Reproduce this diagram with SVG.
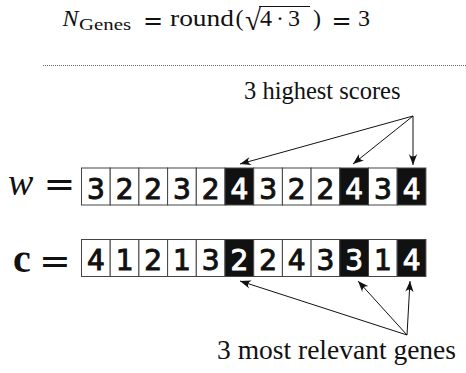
<svg xmlns="http://www.w3.org/2000/svg" width="466" height="373" viewBox="0 0 466 373">
<style>
.serif{font-family:'Liberation Serif','Times New Roman',Times,serif;fill:#111}
.eq{font-family:'DejaVu Serif',serif;fill:#111}
.cell rect{fill:#fff;stroke:#444;stroke-width:1}
.cell text{font-family:'DejaVu Sans',sans-serif;font-size:28px;text-anchor:middle;fill:#111;stroke:#111;stroke-width:1}
.cell.hi rect{fill:#111}
.cell.hi text{fill:#fff;stroke:#fff}
.conn line{stroke:#111;stroke-width:1;fill:none}
</style>
<defs>
<marker id="ah" viewBox="-11 -5 12 10" refX="0" refY="0" markerWidth="12" markerHeight="10" markerUnits="userSpaceOnUse" orient="auto">
<path d="M0,0 L-11,-4.2 Q-6,0 -11,4.2 Z" fill="#111"/>
</marker>
</defs>
<rect width="466" height="373" fill="#fff"/>
<g id="formula">
<text class="serif" x="62.5" y="26" font-size="24" font-style="italic">N</text>
<text class="serif" x="79" y="29.5" font-size="17" textLength="52" lengthAdjust="spacingAndGlyphs">Genes</text>
<text class="eq" x="153" y="29" font-size="24" text-anchor="middle">=</text>
<text class="serif" x="170" y="26" font-size="24" textLength="64" lengthAdjust="spacingAndGlyphs">round</text>
<text class="serif" x="239.5" y="26" font-size="24" text-anchor="middle">(</text>
<text class="serif" x="253" y="29.5" font-size="29" text-anchor="middle">√</text>
<line x1="259" y1="6.5" x2="310" y2="6.5" stroke="#111" stroke-width="1"/>
<text class="serif" x="266" y="26" font-size="24" text-anchor="middle">4</text>
<text class="serif" x="280" y="26" font-size="24" text-anchor="middle">·</text>
<text class="serif" x="294" y="26" font-size="24" text-anchor="middle">3</text>
<text class="serif" x="317" y="26" font-size="24" text-anchor="middle">)</text>
<text class="eq" x="341.5" y="29" font-size="24" text-anchor="middle">=</text>
<text class="serif" x="364" y="26" font-size="24" text-anchor="middle">3</text>
</g>
<line id="separator" x1="43" y1="65.5" x2="466" y2="65.5" stroke="#666" stroke-width="1" stroke-dasharray="1,1"/>
<g id="label-top"><text class="serif" x="244" y="99" font-size="24.5">3 highest scores</text></g>
<g id="label-w"><text class="serif" x="8" y="195" font-size="38" font-style="italic">w</text><text class="eq" x="59.5" y="197" font-size="38" text-anchor="middle">=</text></g>
<g id="label-c"><text class="serif" x="13" y="271.5" font-size="40" font-weight="bold">c</text><text class="eq" x="55" y="274" font-size="38" text-anchor="middle">=</text></g>
<g id="row-w">
<g id="w0" class="cell"><rect x="81.5" y="168" width="28.7" height="37"/><text x="95.85" y="198.5">3</text></g>
<g id="w1" class="cell"><rect x="110.2" y="168" width="28.7" height="37"/><text x="124.55" y="198.5">2</text></g>
<g id="w2" class="cell"><rect x="138.9" y="168" width="28.7" height="37"/><text x="153.25" y="198.5">2</text></g>
<g id="w3" class="cell"><rect x="167.6" y="168" width="28.7" height="37"/><text x="181.95" y="198.5">3</text></g>
<g id="w4" class="cell"><rect x="196.3" y="168" width="28.7" height="37"/><text x="210.65" y="198.5">2</text></g>
<g id="w5" class="cell hi"><rect x="225" y="168" width="28.7" height="37"/><text x="239.35" y="198.5">4</text></g>
<g id="w6" class="cell"><rect x="253.7" y="168" width="28.7" height="37"/><text x="268.05" y="198.5">3</text></g>
<g id="w7" class="cell"><rect x="282.4" y="168" width="28.7" height="37"/><text x="296.75" y="198.5">2</text></g>
<g id="w8" class="cell"><rect x="311.1" y="168" width="28.7" height="37"/><text x="325.45" y="198.5">2</text></g>
<g id="w9" class="cell hi"><rect x="339.8" y="168" width="28.7" height="37"/><text x="354.15" y="198.5">4</text></g>
<g id="w10" class="cell"><rect x="368.5" y="168" width="28.7" height="37"/><text x="382.85" y="198.5">3</text></g>
<g id="w11" class="cell hi"><rect x="397.2" y="168" width="28.7" height="37"/><text x="411.55" y="198.5">4</text></g>
</g>
<g id="row-c">
<g id="c0" class="cell"><rect x="81.5" y="239.5" width="28.7" height="37"/><text x="95.85" y="269.5">4</text></g>
<g id="c1" class="cell"><rect x="110.2" y="239.5" width="28.7" height="37"/><text x="124.55" y="269.5">1</text></g>
<g id="c2" class="cell"><rect x="138.9" y="239.5" width="28.7" height="37"/><text x="153.25" y="269.5">2</text></g>
<g id="c3" class="cell"><rect x="167.6" y="239.5" width="28.7" height="37"/><text x="181.95" y="269.5">1</text></g>
<g id="c4" class="cell"><rect x="196.3" y="239.5" width="28.7" height="37"/><text x="210.65" y="269.5">3</text></g>
<g id="c5" class="cell hi"><rect x="225" y="239.5" width="28.7" height="37"/><text x="239.35" y="269.5">2</text></g>
<g id="c6" class="cell"><rect x="253.7" y="239.5" width="28.7" height="37"/><text x="268.05" y="269.5">2</text></g>
<g id="c7" class="cell"><rect x="282.4" y="239.5" width="28.7" height="37"/><text x="296.75" y="269.5">4</text></g>
<g id="c8" class="cell"><rect x="311.1" y="239.5" width="28.7" height="37"/><text x="325.45" y="269.5">3</text></g>
<g id="c9" class="cell hi"><rect x="339.8" y="239.5" width="28.7" height="37"/><text x="354.15" y="269.5">3</text></g>
<g id="c10" class="cell"><rect x="368.5" y="239.5" width="28.7" height="37"/><text x="382.85" y="269.5">1</text></g>
<g id="c11" class="cell hi"><rect x="397.2" y="239.5" width="28.7" height="37"/><text x="411.55" y="269.5">4</text></g>
</g>
<g id="label-bottom"><text class="serif" x="217" y="359" font-size="27.5">3 most relevant genes</text></g>
<g id="connectors" class="conn">
<line x1="413" y1="116" x2="240" y2="164" marker-end="url(#ah)"/>
<line x1="413" y1="116" x2="353" y2="164" marker-end="url(#ah)"/>
<line x1="413" y1="116" x2="413" y2="165" marker-end="url(#ah)"/>
<line x1="407" y1="335" x2="240" y2="281" marker-end="url(#ah)"/>
<line x1="407" y1="335" x2="358" y2="281" marker-end="url(#ah)"/>
<line x1="407" y1="335" x2="410" y2="281" marker-end="url(#ah)"/>
</g>
</svg>
